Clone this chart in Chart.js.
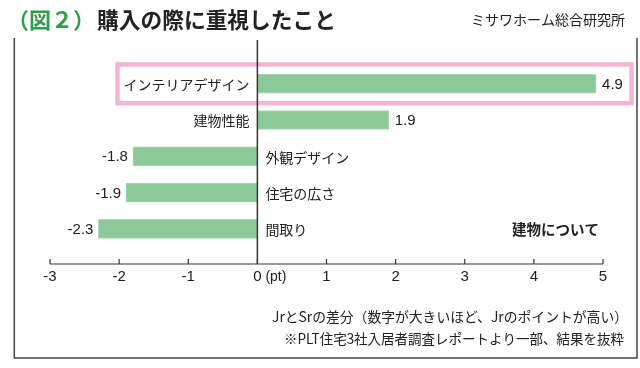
<!DOCTYPE html>
<html>
<head>
<meta charset="utf-8">
<script src="https://cdn.jsdelivr.net/npm/chart.js@4"></script>
<style>
  body { margin: 0; background: #fff; }
  #wrap { width: 640px; height: 368px; position: relative; }
</style>
</head>
<body>
<div id="wrap"><canvas id="prefChart"></canvas></div>
<script>
// data
var categories = ["インテリアデザイン", "建物性能", "外観デザイン", "住宅の広さ", "間取り"];
var diffValues = [4.9, 1.9, -1.8, -1.9, -2.3];
var valueLabels = ["4.9", "1.9", "-1.8", "-1.9", "-2.3"];
var tickValues = [-3, -2, -1, 0, 1, 2, 3, 4, 5];
var tickLabels = ["-3", "-2", "-1", "0", "1", "2", "3", "4", "5"];

var titleHead = "（図２）";
var titleMain = "購入の際に重視したこと";
var sourceText = "ミサワホーム総合研究所";
var cornerNote = "建物について";
var footNote1 = "JrとSrの差分（数字が大きいほど、Jrのポイントが高い）";
var footNote2 = "※PLT住宅3社入居者調査レポートより一部、結果を抜粋";

var jpFont = "'Noto Sans CJK JP', 'Noto Sans', sans-serif";
var numFont = "'Liberation Sans', Arial, sans-serif";
var axisY = 264;

var decorPlugin = {
    id: 'decor',
    beforeDatasetsDraw: function(chart) {
        var ctx = chart.ctx;
        var ys = chart.scales.y;
        var cy = ys.getPixelForValue(0);
        // pink highlight box round the first row
        ctx.save();
        ctx.strokeStyle = '#f5b3d6';
        ctx.lineWidth = 4.5;
        ctx.strokeRect(117.5, cy - 19.3, 514, 38.8);
        ctx.restore();
    },
    afterDatasetsDraw: function(chart) {
        var ctx = chart.ctx;
        var xs = chart.scales.x;
        var ys = chart.scales.y;
        var zeroX = xs.getPixelForValue(0);

        ctx.save();

        // frame
        ctx.strokeStyle = '#4a4444';
        ctx.lineWidth = 1.5;
        ctx.beginPath();
        ctx.moveTo(14.3, 38);
        ctx.lineTo(14.3, 358);
        ctx.lineTo(637, 358);
        ctx.lineTo(637, 38);
        ctx.stroke();

        // zero line
        ctx.strokeStyle = '#3a3333';
        ctx.lineWidth = 1.5;
        ctx.beginPath();
        ctx.moveTo(zeroX, 40);
        ctx.lineTo(zeroX, axisY);
        ctx.stroke();

        // x axis with upward ticks
        ctx.lineWidth = 1.2;
        ctx.beginPath();
        ctx.moveTo(xs.getPixelForValue(tickValues[0]), axisY);
        ctx.lineTo(xs.getPixelForValue(tickValues[tickValues.length - 1]), axisY);
        for (var t = 0; t < tickValues.length; t++) {
            var tx = xs.getPixelForValue(tickValues[t]);
            ctx.moveTo(tx, axisY);
            ctx.lineTo(tx, axisY - 5);
        }
        ctx.stroke();

        ctx.fillStyle = '#222';
        ctx.font = '15px ' + numFont;
        ctx.textBaseline = 'middle';
        ctx.textAlign = 'center';
        for (var k = 0; k < tickValues.length; k++) {
            ctx.fillText(tickLabels[k], xs.getPixelForValue(tickValues[k]), 277);
        }
        ctx.textAlign = 'left';
        ctx.font = '14px ' + numFont;
        ctx.fillText("(pt)", zeroX + 8, 277);

        // category and value labels
        for (var i = 0; i < categories.length; i++) {
            var y = ys.getPixelForValue(i);
            var endX = xs.getPixelForValue(diffValues[i]);
            ctx.font = '14px ' + jpFont;
            if (diffValues[i] >= 0) {
                ctx.textAlign = 'right';
                ctx.fillText(categories[i], zeroX - 8, y + 1);
                ctx.font = '15px ' + numFont;
                ctx.textAlign = 'left';
                ctx.fillText(valueLabels[i], endX + 6, y + 1);
            } else {
                ctx.textAlign = 'left';
                ctx.fillText(categories[i], zeroX + 8, y + 1);
                ctx.font = '15px ' + numFont;
                ctx.textAlign = 'right';
                ctx.fillText(valueLabels[i], endX - 5, y + 1);
            }
        }

        // corner note
        ctx.font = 'bold 14.5px ' + jpFont;
        ctx.textAlign = 'right';
        ctx.fillStyle = '#222';
        ctx.fillText(cornerNote, 599, 229);

        // title
        ctx.textAlign = 'left';
        ctx.font = 'bold 22px ' + jpFont;
        ctx.fillStyle = '#2f9e4c';
        ctx.fillText(titleHead, 7, 20);
        ctx.fillStyle = '#222';
        ctx.fillText(titleMain, 97, 20, 239);

        ctx.font = '14px ' + jpFont;
        ctx.textAlign = 'right';
        ctx.fillText(sourceText, 625, 20, 160);

        // foot notes
        ctx.font = '14px ' + jpFont;
        ctx.fillText(footNote1, 628, 317, 356);
        ctx.fillText(footNote2, 624, 339, 340);

        ctx.restore();
    }
};

var prefChart = new Chart(document.getElementById('prefChart').getContext('2d'), {
    type: 'bar',
    data: {
        labels: categories,
        datasets: [{
            data: diffValues,
            backgroundColor: '#8cc898',
            borderColor: '#a9d8b3',
            borderWidth: 1,
            borderSkipped: false,
            barThickness: 19
        }]
    },
    options: {
        indexAxis: 'y',
        responsive: true,
        maintainAspectRatio: false,
        animation: false,
        layout: {
            padding: { left: 50, right: 37, top: 65.6, bottom: 121 }
        },
        scales: {
            x: { type: 'linear', min: -3, max: 5, display: false },
            y: { type: 'category', display: false, offset: true }
        },
        plugins: {
            legend: { display: false },
            tooltip: { enabled: false }
        }
    },
    plugins: [decorPlugin]
});
</script>
</body>
</html>
